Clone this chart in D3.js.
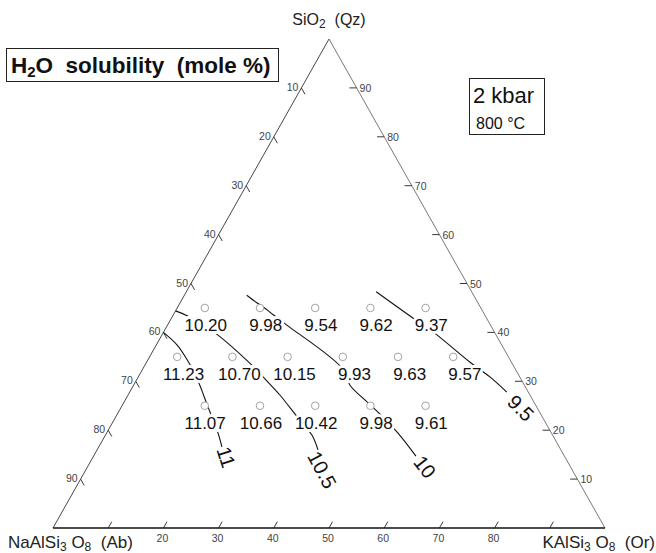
<!DOCTYPE html>
<html>
<head>
<meta charset="utf-8">
<script src="https://cdn.jsdelivr.net/npm/d3@7"></script>
<style>
  html, body { margin: 0; padding: 0; background: #fff; }
  svg text { font-family: "Liberation Sans", Arial, Helvetica, sans-serif; white-space: pre; }
</style>
</head>
<body>
<svg id="chart" width="656" height="553"></svg>
<script>
// measured compositions (mole %), Qz and Or; Ab = 100 - Qz - Or
var pointQz = [45, 45, 45, 45, 45, 35, 35, 35, 35, 35, 35, 25, 25, 25, 25, 25];
var pointOr = [5, 15, 25, 35, 45, 5, 15, 25, 35, 45, 55, 15, 25, 35, 45, 55];
var h2oValues = ['10.20', '9.98', '9.54', '9.62', '9.37',
                 '11.23', '10.70', '10.15', '9.93', '9.63', '9.57',
                 '11.07', '10.66', '10.42', '9.98', '9.61'];

// isopleths, as [Qz, Or] pairs
var iso11 = [[40, 0], [37.4, 3.8], [34.4, 7.1], [32.7, 8.8], [29.2, 12], [26.8, 14],
             [23.1, 17.1], [19.4, 20.2], [16.6, 22.3]];
var iso105 = [[44.4, 0], [43.4, 2.6], [39.9, 9.4], [33.7, 18.8], [30.9, 22.6],
              [27.2, 27.5], [22.7, 32.9], [19, 37.4], [16, 40]];
var iso10 = [[47.6, 11.3], [46, 14], [44.6, 16.5], [43.6, 18.1], [41.5, 21.6],
             [32.7, 36], [29.2, 39.2], [26.2, 43.4], [23.3, 47.6], [19.4, 52.8], [14.7, 58.4]];
var iso95 = [[48.3, 34.4], [42.9, 43.8], [40.1, 48.8], [33.9, 58.6], [30.9, 63.7], [27.8, 68.3]];
var isoNames = ['11', '10.5', '10', '9.5'];
var isoLabelQz = [14.5, 11.9, 12.5, 24.5];
var isoLabelOr = [24.1, 42.8, 61.1, 72.5];

var tickValues = [10, 20, 30, 40, 50, 60, 70, 80, 90];
var bottomLabels = [20, 30, 40, 50, 60, 70, 80];

var svg = d3.select('#chart');

var xs = d3.scaleLinear().domain([0, 100]).range([53, 605]),
    ys = d3.scaleLinear().domain([0, 100]).range([528, 39]);

function proj(q, o) { return [xs(o + q / 2), ys(q)]; }

// triangle edges
var pAb = proj(0, 0), pOr = proj(0, 100), pQz = proj(100, 0);
svg.append('line').attr('x1', pAb[0]).attr('y1', pAb[1]).attr('x2', pQz[0]).attr('y2', pQz[1])
    .attr('stroke', '#333').attr('stroke-width', 0.9);
svg.append('line').attr('x1', pQz[0]).attr('y1', pQz[1]).attr('x2', pOr[0]).attr('y2', pOr[1])
    .attr('stroke', '#555').attr('stroke-width', 0.8);
svg.append('line').attr('x1', pAb[0]).attr('y1', pAb[1]).attr('x2', pOr[0]).attr('y2', pOr[1])
    .attr('stroke', '#111').attr('stroke-width', 1.5);

var dt = 1.3;
var ticks = svg.append('g').attr('stroke', '#222').attr('stroke-width', 0.9);
var tickText = svg.append('g').attr('font-size', 10.5).attr('fill', '#444');

tickValues.forEach(function(v){
    // left edge: Ab %
    var a = proj(100 - v, 0), b = proj(100 - v - dt, dt);
    ticks.append('line').attr('x1', a[0]).attr('y1', a[1]).attr('x2', b[0]).attr('y2', b[1]);
    tickText.append('text').attr('x', a[0] - 3).attr('y', a[1] + 3)
        .attr('text-anchor', 'end').text(v);
    // right edge: Qz %
    var c = proj(v, 100 - v), e = proj(v, 100 - v - dt);
    ticks.append('line').attr('x1', c[0]).attr('y1', c[1]).attr('x2', e[0]).attr('y2', e[1]);
    tickText.append('text').attr('x', c[0] + 3).attr('y', c[1] + 4).text(v);
    // bottom: Or %
    var f = proj(0, v), g = proj(dt, v);
    ticks.append('line').attr('x1', f[0]).attr('y1', f[1]).attr('x2', g[0]).attr('y2', g[1]);
});
bottomLabels.forEach(function(v){
    var f = proj(0, v);
    tickText.append('text').attr('x', f[0] - 1).attr('y', f[1] + 14)
        .attr('text-anchor', 'middle').text(v);
});

// isopleths
var line = d3.line()
    .x(function(d){ return proj(d[0], d[1])[0]; })
    .y(function(d){ return proj(d[0], d[1])[1]; })
    .curve(d3.curveCatmullRom);

svg.append('g').selectAll('path')
    .data([iso11, iso105, iso10, iso95])
    .enter().append('path')
    .attr('d', line)
    .attr('fill', 'none')
    .attr('stroke', '#111')
    .attr('stroke-width', 1.1);

// experiment points
var pts = d3.range(h2oValues.length);
svg.append('g').selectAll('circle')
    .data(pts).enter().append('circle')
    .attr('cx', function(i){ return proj(pointQz[i], pointOr[i])[0]; })
    .attr('cy', function(i){ return proj(pointQz[i], pointOr[i])[1]; })
    .attr('r', 3.8)
    .attr('fill', '#fff')
    .attr('stroke', '#999')
    .attr('stroke-width', 0.9);

// labels are set with the decimal point roughly under the circle;
// the middle row was lettered a little further right in the original
var digitW = 17 * 0.556;
function labelX(i){
    var cx = proj(pointQz[i], pointOr[i])[0],
        nInt = h2oValues[i].indexOf('.'),
        shift = pointQz[i] === 35 ? 7 : 1;
    return cx + shift - nInt * digitW - 2.4;
}

svg.append('g').selectAll('text')
    .data(pts).enter().append('text')
    .attr('x', labelX)
    .attr('y', function(i){ return proj(pointQz[i], pointOr[i])[1] + 23; })
    .attr('font-size', 17)
    .attr('fill', '#111')
    .attr('stroke', '#fff')
    .attr('stroke-width', 6)
    .attr('paint-order', 'stroke')
    .text(function(i){ return h2oValues[i]; });

// isopleth labels
var rot = [72, 62, 52, 45];
svg.append('g').selectAll('text')
    .data(isoNames).enter().append('text')
    .attr('transform', function(d, i){
        var p = proj(isoLabelQz[i], isoLabelOr[i]);
        return 'translate(' + p[0] + ',' + p[1] + ') rotate(' + rot[i] + ')';
    })
    .attr('text-anchor', 'middle')
    .attr('dy', '0.35em')
    .attr('font-size', 20)
    .attr('fill', '#111')
    .text(function(d){ return d; });

// vertex labels
function formula(sel, parts){
    parts.forEach(function(p, k){
        var t = sel.append('tspan').text(p);
        if (k % 2) t.attr('font-size', 12).attr('dy', 3);
        else if (k) t.attr('dy', -3);
    });
}

var lqz = svg.append('text').attr('x', pQz[0]).attr('y', 25).attr('text-anchor', 'middle')
    .attr('font-size', 16).attr('fill', '#222');
formula(lqz, ['SiO', '2', '  (Qz)']);

var lab = svg.append('text').attr('x', 8).attr('y', 548).attr('font-size', 17).attr('fill', '#222');
formula(lab, ['NaAlSi', '3', ' O', '8', '  (Ab)']);

var lor = svg.append('text').attr('x', 655).attr('y', 548).attr('text-anchor', 'end')
    .attr('font-size', 17).attr('fill', '#222');
formula(lor, ['KAlSi', '3', ' O', '8', '  (Or)']);

// title box
svg.append('rect').attr('x', 6.5).attr('y', 48.5).attr('width', 272).attr('height', 33)
    .attr('fill', 'none').attr('stroke', '#222').attr('stroke-width', 1);
var title = svg.append('text').attr('x', 11).attr('y', 73)
    .attr('font-size', 22.5).attr('font-weight', 'bold').attr('fill', '#111');
title.append('tspan').text('H');
title.append('tspan').attr('font-size', 15).attr('dy', 4).text('2');
title.append('tspan').attr('dy', -4).text('O  solubility  (mole %)');

// conditions box
svg.append('rect').attr('x', 469.5).attr('y', 78.5).attr('width', 75).attr('height', 56)
    .attr('fill', 'none').attr('stroke', '#222').attr('stroke-width', 1);
svg.append('text').attr('x', 473).attr('y', 103).attr('font-size', 22).attr('fill', '#111')
    .text('2 kbar');
svg.append('text').attr('x', 476).attr('y', 129).attr('font-size', 16).attr('fill', '#111')
    .text('800 °C');
</script>
</body>
</html>
